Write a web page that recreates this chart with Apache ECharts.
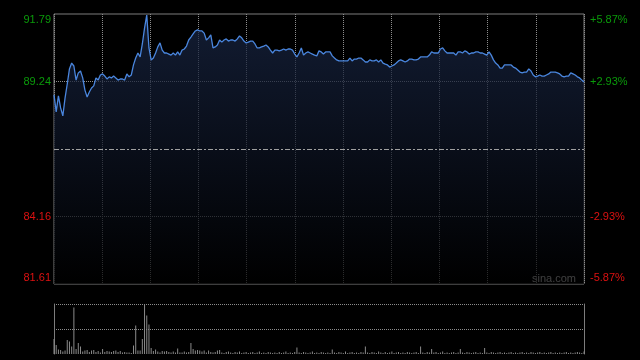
<!DOCTYPE html>
<html><head><meta charset="utf-8">
<script src="https://cdn.jsdelivr.net/npm/echarts@6/dist/echarts.min.js"></script>
<style>html,body{margin:0;padding:0;background:#000}#c{width:640px;height:360px}</style>
</head><body><div id="c"></div>
<script>
const prevClose = 86.70;
const priceMin = 81.61;
const priceMax = 91.79;
const leftTicks = ['81.61', '84.16', '', '89.24', '91.79'];
const rightTicks = ['-5.87%', '-2.93%', '', '+2.93%', '+5.87%'];
const prices = [
88.74,88.10,88.70,88.25,87.95,88.62,89.15,89.72,89.94,89.83,
89.30,89.57,89.64,89.38,88.92,88.66,88.85,89.00,89.08,89.38,
89.30,89.49,89.53,89.45,89.34,89.42,89.38,89.45,89.38,89.30,
89.34,89.34,89.30,89.53,89.42,89.49,89.87,90.13,90.32,90.17,
90.66,91.26,91.75,90.51,90.06,90.13,90.32,90.55,90.70,90.43,
90.32,90.32,90.28,90.24,90.32,90.24,90.36,90.24,90.43,90.47,
90.58,90.81,90.92,91.04,91.15,91.19,91.15,91.15,91.07,90.81,
90.89,91.00,90.51,90.55,90.62,90.81,90.73,90.81,90.85,90.77,
90.81,90.81,90.77,90.85,90.96,90.89,90.77,90.70,90.73,90.77,
90.77,90.66,90.51,90.51,90.55,90.58,90.62,90.55,90.43,90.32,
90.43,90.43,90.40,90.43,90.47,90.43,90.47,90.47,90.43,90.28,
90.17,90.32,90.51,90.24,90.32,90.36,90.32,90.28,90.24,90.21,
90.40,90.36,90.28,90.36,90.36,90.36,90.21,90.13,90.06,90.02,
90.02,90.02,90.02,90.02,90.13,90.02,90.09,90.09,90.13,90.13,
90.06,89.98,89.98,90.06,90.02,90.02,90.06,89.98,90.06,89.94,
89.90,89.87,89.79,89.83,89.87,89.94,90.02,90.06,90.02,89.98,
90.02,90.09,90.09,90.06,90.06,90.09,90.17,90.17,90.17,90.17,
90.24,90.36,90.32,90.32,90.32,90.47,90.51,90.40,90.32,90.32,
90.32,90.32,90.24,90.36,90.36,90.32,90.40,90.36,90.28,90.32,
90.32,90.36,90.36,90.32,90.32,90.28,90.24,90.36,90.24,90.06,
89.94,89.87,89.75,89.75,89.87,89.87,89.87,89.87,89.79,89.75,
89.68,89.60,89.57,89.60,89.60,89.72,89.64,89.49,89.42,89.45,
89.49,89.45,89.45,89.49,89.53,89.60,89.60,89.60,89.57,89.53,
89.45,89.42,89.45,89.45,89.57,89.53,89.49,89.42,89.38,89.30,
89.23
];
const volumes = [
30,18,9,8,5,7,28,25,15,93,
10,22,15,5,7,8,4,7,8,4,
6,3,10,4,6,5,4,6,7,4,
6,3,4,3,3,2,17,57,7,7,
30,100,77,59,12,6,9,5,3,6,
5,6,4,3,5,3,11,3,3,5,
3,4,22,10,7,8,7,5,7,3,
7,4,3,4,7,8,3,2,4,5,
3,2,4,3,5,2,3,4,2,3,
4,2,3,5,2,3,2,4,3,2,
3,2,4,2,3,5,2,3,2,4,
13,3,2,4,3,2,3,5,2,3,
2,4,3,2,3,2,9,3,2,4,
3,2,5,2,3,4,2,3,2,4,
3,15,3,2,4,3,2,5,3,2,
4,2,3,5,2,3,4,2,3,2,
4,3,2,3,4,2,15,3,2,4,
3,10,3,4,2,3,5,2,3,2,
3,4,2,3,10,3,2,4,3,2,
3,4,2,3,2,12,3,2,4,3,
2,3,4,2,3,2,3,4,2,3,
2,3,4,2,3,2,4,3,2,3,
4,2,3,2,3,4,2,3,2,3,
2,3,4,2,3,2,3,4,3,2,
5
];
const times = [];
for (let i = 0; i < prices.length; i++) {
  const m = i <= 120 ? 9 * 60 + 30 + i : 13 * 60 + (i - 120);
  times.push(String(Math.floor(m / 60)).padStart(2, '0') + ':' + String(m % 60).padStart(2, '0'));
}

const FONT = '"Liberation Sans", Arial, sans-serif';
const GREEN = '#0a9a0a', RED = '#dd1111', GRIDC = '#8c8c8c', BORDER = '#7c7c7c';
const T = 'rgba(0,0,0,0)';
function richFor(color) {
  return {
    n: {color: color, fontSize: 11, fontFamily: FONT},
    t: {color: color, fontSize: 11, fontFamily: FONT, padding: [12, 0, 0, 0]},
    b: {color: color, fontSize: 11, fontFamily: FONT, padding: [0, 0, 12, 0]}
  };
}
function labelFmt(list) {
  return function (v) {
    const s = list[v];
    if (!s) return '';
    const up = v > 2;
    const pos = v === 4 ? 't' : (v === 0 ? 'b' : 'n');
    return '{' + (up ? 'g' : 'r') + pos + '|' + s + '}';
  };
}
const rich = {};
['n', 't', 'b'].forEach(k => {
  rich['g' + k] = richFor(GREEN)[k];
  rich['r' + k] = richFor(RED)[k];
});

const chart = echarts.init(document.getElementById('c'), null, {renderer: 'canvas'});
chart.setOption({
  backgroundColor: '#000',
  animation: false,
  textStyle: {fontFamily: FONT},
  grid: [
    {left: 54, top: 14, width: 530, height: 270, show: true, borderColor: BORDER, borderWidth: 1, backgroundColor: T},
    {left: 54, top: 304, width: 530, height: 50}
  ],
  xAxis: [
    {type: 'category', gridIndex: 0, data: times, boundaryGap: false, show: false},
    {type: 'value', gridIndex: 0, min: 0, max: 11, interval: 1,
      axisLine: {show: false}, axisTick: {show: false}, axisLabel: {show: false},
      splitLine: {show: true, lineStyle: {color: GRIDC, type: [1, 1], width: 1}}},
    {type: 'category', gridIndex: 1, data: times, boundaryGap: false, show: false}
  ],
  yAxis: [
    {type: 'value', gridIndex: 0, min: priceMin, max: priceMax, show: false},
    {type: 'value', gridIndex: 0, min: 0, max: 4, interval: 1, position: 'left',
      axisLine: {show: false, onZero: false}, axisTick: {show: false},
      axisLabel: {margin: 3, formatter: labelFmt(leftTicks), rich: rich},
      splitLine: {show: true, lineStyle: {color: [T, GRIDC, T, GRIDC, T], type: [1, 1], width: 1}}},
    {type: 'value', gridIndex: 0, min: 0, max: 4, interval: 1, position: 'right',
      axisLine: {show: false, onZero: false}, axisTick: {show: false},
      axisLabel: {margin: 6, formatter: labelFmt(rightTicks), rich: rich},
      splitLine: {show: false}},
    {type: 'value', gridIndex: 1, min: 0, max: 100, interval: 50, position: 'left',
      axisLine: {show: true, onZero: false, lineStyle: {color: BORDER, width: 1}}, axisTick: {show: false},
      axisLabel: {show: false},
      splitLine: {show: true, lineStyle: {color: [T, GRIDC, GRIDC], type: [1, 1], width: 1}}},
    {type: 'value', gridIndex: 1, min: 0, max: 100, interval: 50, position: 'right',
      axisLine: {show: true, onZero: false, lineStyle: {color: BORDER, width: 1}}, axisTick: {show: false},
      axisLabel: {show: false}, splitLine: {show: false}}
  ],
  series: [
    {type: 'line', xAxisIndex: 0, yAxisIndex: 0, data: prices, showSymbol: false, symbol: 'none',
      lineStyle: {color: '#4a86de', width: 1.3},
      areaStyle: {origin: 'start', color: new echarts.graphic.LinearGradient(0, 14, 0, 284, [
        {offset: 0, color: '#1a2848'}, {offset: 1, color: '#000000'}], true)},
      markLine: {silent: true, symbol: 'none', label: {show: false}, animation: false,
        lineStyle: {color: '#a0a0a0', type: [5, 2, 2, 2], width: 1},
        data: [{yAxis: prevClose}]}},
    {type: 'bar', xAxisIndex: 2, yAxisIndex: 3, data: volumes, barWidth: 1,
      itemStyle: {color: '#8a8a8a'}}
  ],
  graphic: [
    {type: 'text', left: 532, top: 273, style: {text: 'sina.com', fill: '#cfcfcf', font: '11px ' + FONT}}
  ]
});
</script></body></html>
